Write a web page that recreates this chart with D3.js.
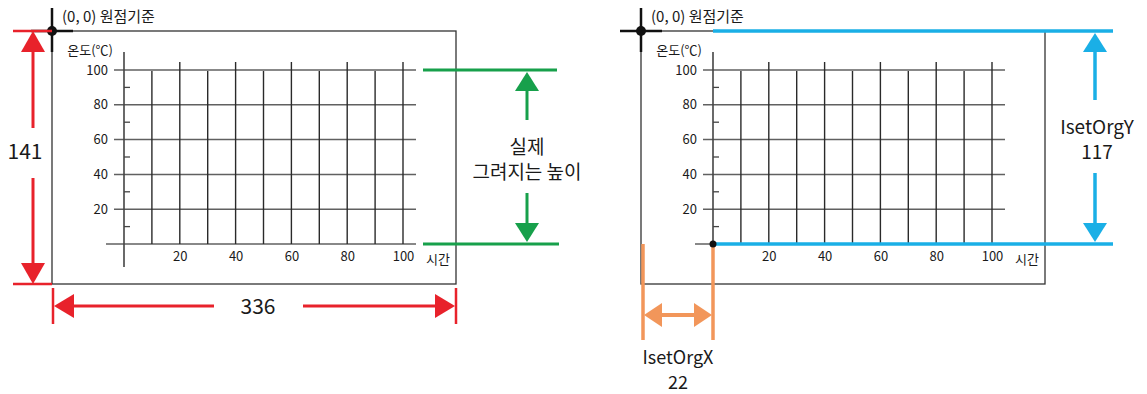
<!DOCTYPE html>
<html>
<head>
<meta charset="utf-8">
<script src="https://cdn.jsdelivr.net/npm/d3@7"></script>
<style>
  body { margin: 0; background: #fff; }
  svg { display: block; font-family: "Noto Sans CJK KR", "Noto Sans", sans-serif; }
</style>
</head>
<body>
<svg id="chart" width="1147" height="394"></svg>
<script>
// data
const yLabels = [20, 40, 60, 80, 100];
const yMinor = [10, 30, 50, 70, 90];
const xLabels = [20, 40, 60, 80, 100];
const xGrid = [10, 20, 30, 40, 50, 60, 70, 80, 90, 100];
const yGrid = [0, 20, 40, 60, 80, 100];
const yTitle = '온도(℃)';
const xTitle = '시간';
const originText = '(0, 0) 원점기준';
const frameWidth = 336, frameHeight = 141;
const orgX = 22, orgY = 117;
const heightLabel = ['실제', '그려지는 높이'];

const svg = d3.select('#chart');

// arrow helper - triangle pointing in a direction, tip at (x,y)
function arrowHead(g, x, y, dir, len, wid, color) {
  let pts;
  if (dir === 'up') pts = [[x, y], [x - wid / 2, y + len], [x + wid / 2, y + len]];
  if (dir === 'down') pts = [[x, y], [x - wid / 2, y - len], [x + wid / 2, y - len]];
  if (dir === 'left') pts = [[x, y], [x + len, y - wid / 2], [x + len, y + wid / 2]];
  if (dir === 'right') pts = [[x, y], [x - len, y - wid / 2], [x - len, y + wid / 2]];
  g.append('polygon').attr('points', pts.map(p => p.join(',')).join(' ')).attr('fill', color);
}

function line(g, x1, y1, x2, y2, color, w) {
  g.append('line').attr('x1', x1).attr('y1', y1).attr('x2', x2).attr('y2', y2)
    .attr('stroke', color).attr('stroke-width', w);
}

// one panel (frame + grid), dx = horizontal offset
function drawPanel(dx) {
  const g = svg.append('g').attr('transform', `translate(${dx},0)`);
  const x = d3.scaleLinear().domain([0, 100]).range([124, 403]);
  const y = d3.scaleLinear().domain([0, 100]).range([244, 70]);

  // frame
  g.append('rect').attr('x', 52).attr('y', 31).attr('width', 404).attr('height', 253)
    .attr('fill', 'none').attr('stroke', '#333').attr('stroke-width', 1.3);

  // horizontal grid
  g.selectAll('.hg').data(yGrid).enter().append('line')
    .attr('x1', d => d === 0 ? 106 : 114).attr('x2', 416)
    .attr('y1', d => y(d)).attr('y2', d => y(d))
    .attr('stroke', '#606060').attr('stroke-width', 1.5);

  // vertical grid (major ones taller)
  g.selectAll('.vg').data(xGrid).enter().append('line')
    .attr('x1', d => x(d)).attr('x2', d => x(d))
    .attr('y1', d => d % 20 === 0 ? 62 : 71).attr('y2', y(0))
    .attr('stroke', '#2a2a2a').attr('stroke-width', 1.4);

  // y axis line
  line(g, x(0), 52, x(0), 267, '#444', 1.6);

  // minor ticks on y axis
  g.selectAll('.mt').data(yMinor).enter().append('line')
    .attr('x1', x(0)).attr('x2', x(0) + 6)
    .attr('y1', d => y(d)).attr('y2', d => y(d))
    .attr('stroke', '#444').attr('stroke-width', 1.3);

  // y labels via axis
  const ya = g.append('g').attr('transform', 'translate(114,0)')
    .call(d3.axisLeft(y).tickValues(yLabels).tickSize(0).tickPadding(6));
  ya.select('.domain').remove();
  ya.selectAll('text').attr('font-size', 13).attr('fill', '#1a1a1a')
    .attr('font-family', '"Noto Sans CJK KR", sans-serif');

  // x labels via axis
  const xa = g.append('g').attr('transform', `translate(0,${y(0)})`)
    .call(d3.axisBottom(x).tickValues(xLabels).tickSize(0).tickPadding(8));
  xa.select('.domain').remove();
  xa.selectAll('text').attr('font-size', 13).attr('fill', '#1a1a1a')
    .attr('font-family', '"Noto Sans CJK KR", sans-serif');

  g.append('text').attr('x', 426).attr('y', 264).attr('font-size', 13).attr('fill', '#1a1a1a').text(xTitle);
  g.append('text').attr('x', 113).attr('y', 55).attr('text-anchor', 'end')
    .attr('font-size', 13).attr('fill', '#1a1a1a').text(yTitle);

  // origin crosshair
  line(g, 52, 8, 52, 52, '#111', 2.5);
  line(g, 31, 31, 73, 31, '#111', 2.5);
  g.append('circle').attr('cx', 52).attr('cy', 31).attr('r', 5).attr('fill', '#111');
  g.append('text').attr('x', 62).attr('y', 22).attr('font-size', 15).attr('fill', '#1a1a1a').text(originText);

  return { g, x, y };
}

// ---- left panel ----
const left = drawPanel(0);
const red = '#e8222b';
const lg = svg.append('g');
// 141 height
line(lg, 13, 31, 52, 31, red, 2.5);
line(lg, 13, 284, 52, 284, red, 2.5);
line(lg, 33, 50, 33, 128, red, 3);
line(lg, 33, 178, 33, 266, red, 3);
arrowHead(lg, 33, 31, 'up', 21, 24, red);
arrowHead(lg, 33, 284, 'down', 21, 24, red);
lg.append('text').attr('x', 25).attr('y', 159).attr('text-anchor', 'middle')
  .attr('font-size', 21).attr('fill', '#1a1a1a').text(frameHeight);
// 336 width
line(lg, 53, 288, 53, 324, red, 2.5);
line(lg, 456, 288, 456, 324, red, 2.5);
line(lg, 72, 306, 214, 306, red, 3);
line(lg, 303, 306, 438, 306, red, 3);
arrowHead(lg, 54, 306, 'left', 20, 24, red);
arrowHead(lg, 455, 306, 'right', 20, 24, red);
lg.append('text').attr('x', 258).attr('y', 314).attr('text-anchor', 'middle')
  .attr('font-size', 21).attr('fill', '#1a1a1a').text(frameWidth);
// green drawn height
const green = '#17a04b';
line(lg, 423, left.y(100), 557, left.y(100), green, 3);
line(lg, 423, left.y(0), 559, left.y(0), green, 3);
line(lg, 527, 88, 527, 120, green, 3);
line(lg, 527, 193, 527, 228, green, 3);
arrowHead(lg, 527, left.y(100) + 2, 'up', 19, 24, green);
arrowHead(lg, 527, left.y(0) - 2, 'down', 19, 24, green);
lg.append('text').attr('x', 527).attr('y', 154).attr('text-anchor', 'middle')
  .attr('font-size', 19).attr('fill', '#1a1a1a').text(heightLabel[0]);
lg.append('text').attr('x', 527).attr('y', 179).attr('text-anchor', 'middle')
  .attr('font-size', 19).attr('fill', '#1a1a1a').text(heightLabel[1]);

// ---- right panel ----
const dx = 589;
const right = drawPanel(dx);
const rg = svg.append('g').attr('transform', `translate(${dx},0)`);
const cyan = '#1aafe6';
const orange = '#f2965a';
// cyan lines
line(rg, right.x(0), 31, 524, 31, cyan, 3.5);
line(rg, right.x(0), right.y(0), 524, right.y(0), cyan, 3.5);
line(rg, 506, 48, 506, 100, cyan, 3.5);
line(rg, 506, 173, 506, 228, cyan, 3.5);
arrowHead(rg, 506, 33, 'up', 19, 24, cyan);
arrowHead(rg, 506, right.y(0) - 2, 'down', 19, 24, cyan);
rg.append('text').attr('x', 508).attr('y', 134).attr('text-anchor', 'middle')
  .attr('font-size', 19).attr('fill', '#1a1a1a').text('IsetOrgY');
rg.append('text').attr('x', 508).attr('y', 159).attr('text-anchor', 'middle')
  .attr('font-size', 19).attr('fill', '#1a1a1a').text(orgY);
// orange offset
line(rg, 54, right.y(0), 54, 340, orange, 3.5);
line(rg, right.x(0), right.y(0), right.x(0), 340, orange, 3.5);
line(rg, 68, 315, 110, 315, orange, 4);
arrowHead(rg, 55, 315, 'left', 18, 24, orange);
arrowHead(rg, right.x(0) - 1, 315, 'right', 18, 24, orange);
rg.append('text').attr('x', 89).attr('y', 364).attr('text-anchor', 'middle')
  .attr('font-size', 18).attr('fill', '#1a1a1a').text('IsetOrgX');
rg.append('text').attr('x', 89).attr('y', 389).attr('text-anchor', 'middle')
  .attr('font-size', 18).attr('fill', '#1a1a1a').text(orgX);
// plot origin dot
rg.append('circle').attr('cx', right.x(0)).attr('cy', right.y(0)).attr('r', 3.5).attr('fill', '#111');
</script>
</body>
</html>
